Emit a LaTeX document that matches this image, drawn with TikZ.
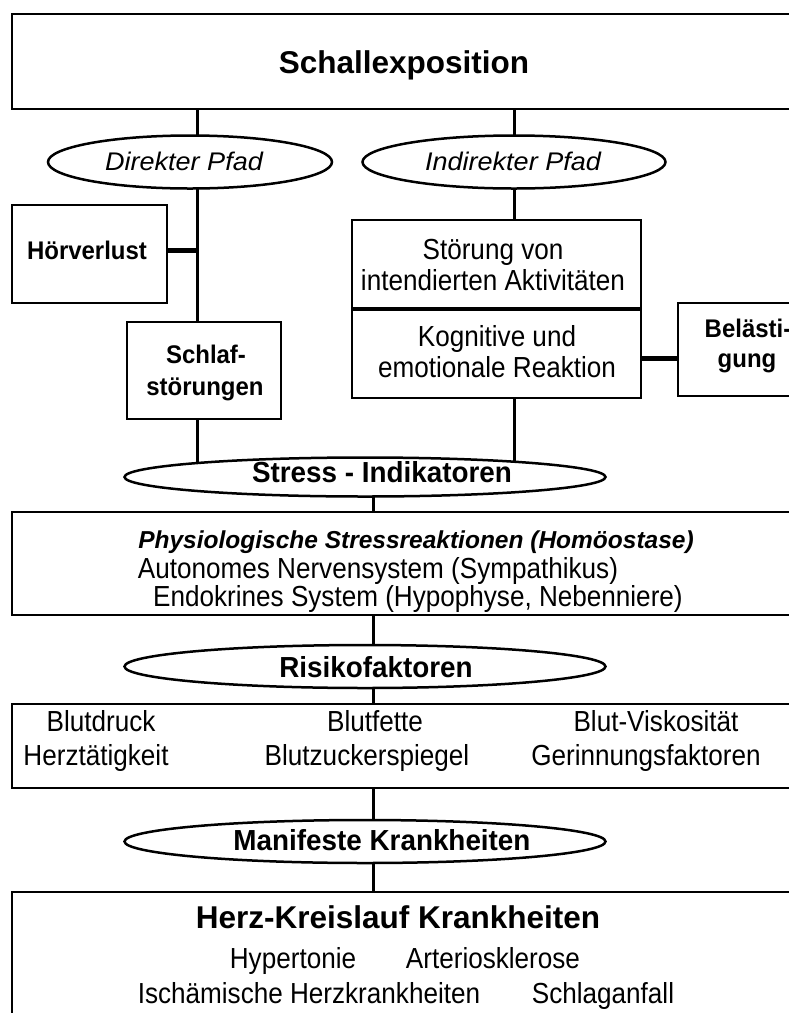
\documentclass[tikz,border=0pt]{standalone}
\usepackage{fontspec}
\setmainfont{Liberation Sans}
\newfontfamily\fontreg[FakeStretch=0.9]{Liberation Sans}
\newfontfamily\fontbm[FakeStretch=0.96]{Liberation Sans}
\newfontfamily\fontbs[FakeStretch=0.94]{Liberation Sans}
\newfontfamily\fontit[FakeStretch=1.06]{Liberation Sans}
\usetikzlibrary{shapes.geometric,backgrounds}
\begin{document}
\begin{tikzpicture}[x=1pt,y=-1pt,
  box/.style={draw, line width=2pt, fill=white, inner sep=0pt, rectangle, anchor=north west},
  oval/.style={draw, line width=2.5pt, fill=white, ellipse, inner sep=0pt},
  conn/.style={line width=3pt},
  tconn/.style={line width=5pt},
  tr/.style={inner sep=0pt, font=\fontreg\fontsize{29}{33}\selectfont, text height=20.8pt, text depth=0pt},
  tbs/.style={inner sep=0pt, font=\fontbs\bfseries\fontsize{25.5}{29}\selectfont, text height=18.3pt, text depth=0pt},
  tbm/.style={inner sep=0pt, font=\fontbm\bfseries\fontsize{29}{33}\selectfont, text height=20.8pt, text depth=0pt},
  tbl/.style={inner sep=0pt, font=\bfseries\fontsize{31.5}{36}\selectfont, text height=22.6pt, text depth=0pt},
  tit/.style={inner sep=0pt, font=\fontit\itshape\fontsize{25.5}{29}\selectfont, text height=18.3pt, text depth=0pt},
  tbi/.style={inner sep=0pt, font=\bfseries\itshape\fontsize{24.5}{29}\selectfont, text height=17.5pt, text depth=0pt}
]
\useasboundingbox (0,0) rectangle (789,1013);
\clip (0,0) rectangle (789,1013);

\coordinate (lx) at (197,0);
\coordinate (rx) at (514,0);
\coordinate (cx) at (373,0);

% boxes
\node[box, minimum width=786pt, minimum height=95pt] (top) at (11,13) {};
\node[box, minimum width=155pt, minimum height=98pt] (hoer) at (11,204) {};
\node[box, minimum width=154pt, minimum height=97pt] (schlaf) at (126,321) {};
\node[box, minimum width=289pt, minimum height=178pt] (stoer) at (351,219) {};
\node[box, minimum width=140pt, minimum height=93pt] (bel) at (677,302) {};
\node[box, minimum width=786pt, minimum height=103pt] (phys) at (11,511) {};
\node[box, minimum width=786pt, minimum height=84pt] (rbox) at (11,703) {};
\node[box, minimum width=786pt, minimum height=140pt] (herz) at (11,891) {};

% ellipses
\node[oval, minimum width=284pt, minimum height=53pt] (dir) at (190,162) {};
\node[oval, minimum width=303pt, minimum height=53pt] (ind) at (514,162) {};
\node[oval, minimum width=481pt, minimum height=39pt] (stress) at (365,477) {};
\node[oval, minimum width=481pt, minimum height=43pt] (risk) at (365,666.5) {};
\node[oval, minimum width=481pt, minimum height=43pt] (man) at (365,841.5) {};

% divider
\draw[line width=4pt] (stoer.west) -- (stoer.east);

% texts
\node[tbl] (ttop) at (404,62) {Schallexposition};
\node[tit] (tdir) at (184,161) {Direkter Pfad};
\node[tit] (tind) at (513,161) {Indirekter Pfad};
\node[tbs] (thoer) at (87,250) {Hörverlust};
\node[tbs] (tschl1) at (206,354) {Schlaf-};
\node[tbs] (tschl2) at (205,386) {störungen};
\node[tr] (tst1) at (493,249) {Störung von};
\node[tr] (tst2) at (493,280) {intendierten Aktivitäten};
\node[tr] (tst3) at (497,336) {Kognitive und};
\node[tr] (tst4) at (497,367) {emotionale Reaktion};
\node[tbs] (tbel1) at (748,328) {Belästi-};
\node[tbs] (tbel2) at (747,358) {gung};
\node[tbm] (tstress) at (382,472) {Stress - Indikatoren};
\node[tbi] (tph1) at (416,540) {Physiologische Stressreaktionen (Homöostase)};
\node[tr] (tph2) at (378,568) {Autonomes Nervensystem (Sympathikus)};
\node[tr] (tph3) at (418,596) {Endokrines System (Hypophyse, Nebenniere)};
\node[tbm] (trisk) at (376,667) {Risikofaktoren};
\node[tr] (tr1) at (101,721) {Blutdruck};
\node[tr] (tr2) at (96,755) {Herztätigkeit};
\node[tr] (tr3) at (375,721) {Blutfette};
\node[tr] (tr4) at (367,755) {Blutzuckerspiegel};
\node[tr] (tr5) at (656,721) {Blut-Viskosität};
\node[tr] (tr6) at (646,755) {Gerinnungsfaktoren};
\node[tbm] (tman) at (382,840) {Manifeste Krankheiten};
\node[tbl] (therz) at (398,917) {Herz-Kreislauf Krankheiten};
\node[tr] (thyp) at (293,958) {Hypertonie};
\node[tr] (tart) at (493,958) {Arteriosklerose};
\node[tr] (tisch) at (309,993) {Ischämische Herzkrankheiten};
\node[tr] (tschlag) at (603,993) {Schlaganfall};

\begin{scope}[on background layer]
  \fill[white] (0,0) rectangle (789,1013);
  \draw[conn] (top.south -| lx) -- (dir.center -| lx);
  \draw[conn] (dir.center -| lx) -- (schlaf.north -| lx);
  \draw[tconn] ([yshift=4pt]hoer.east) -- ([yshift=4pt]hoer.east -| lx);
  \draw[conn] (schlaf.south -| lx) -- (stress.center -| lx);
  \draw[conn] (top.south -| rx) -- (ind.center);
  \draw[conn] (ind.center) -- (stoer.north -| rx);
  \draw[conn] (stoer.south -| rx) -- (stress.center -| rx);
  \draw[tconn] ([yshift=-9pt]bel.west) -- ([yshift=-9pt]bel.west -| stoer.east);
  \draw[conn] (stress.center -| cx) -- (phys.north -| cx);
  \draw[conn] (phys.south -| cx) -- (risk.center -| cx);
  \draw[conn] (risk.center -| cx) -- (rbox.north -| cx);
  \draw[conn] (rbox.south -| cx) -- (man.center -| cx);
  \draw[conn] (man.center -| cx) -- (herz.north -| cx);
\end{scope}
\end{tikzpicture}
\end{document}
